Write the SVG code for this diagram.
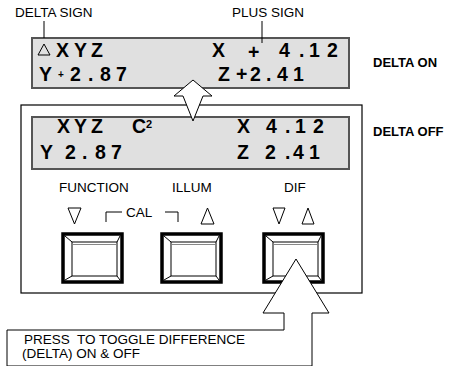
<svg xmlns="http://www.w3.org/2000/svg" width="449" height="366" viewBox="0 0 449 366">
<style>
.lbl{font-family:"Liberation Sans",Arial,sans-serif;font-size:13.5px;fill:#000}
.lblb{font-family:"Liberation Sans",Arial,sans-serif;font-size:13px;font-weight:bold;fill:#000}
.lcd{font-family:"Liberation Sans",Arial,sans-serif;font-size:19.5px;font-weight:bold;fill:#000}
.disp{fill:#e0e0e0;stroke:#555;stroke-width:2}
.ln{fill:none;stroke:#000;stroke-width:1}
.tri{fill:none;stroke:#000;stroke-width:1}
.btnO{fill:#fff;stroke:#000;stroke-width:3.5}
.btnI{fill:#fff;stroke:#000;stroke-width:1}
.gr{fill:none;stroke:#888;stroke-width:1}
</style>
<rect width="449" height="366" fill="#fff"/>

<g id="labels-top">
<text class="lbl" x="15" y="17">DELTA SIGN</text>
<text class="lbl" x="232" y="17">PLUS SIGN</text>
</g>

<g id="outer-box">
<rect x="21" y="105" width="341" height="188" fill="#fff" stroke="#000" stroke-width="1.2"/>
</g>

<g id="display-on">
<rect class="disp" x="32" y="38" width="317" height="50"/>
<polygon class="tri" points="38,55 50,55 44,44"/>
<text class="lcd" x="56 74 91" y="57">XYZ</text>
<text class="lcd" x="212" y="57">X</text>
<text class="lcd" x="248" y="59">+</text>
<text class="lcd" x="279 299 309 327" y="57">4.12</text>
<text class="lcd" x="39" y="81">Y</text>
<text class="lblb" x="58" y="78" style="font-size:10px">+</text>
<text class="lcd" x="70 88 100 116" y="81">2.87</text>
<text class="lcd" x="218 236 250 266 277 293" y="81">Z+2.41</text>
</g>

<g id="display-off">
<rect class="disp" x="32" y="117" width="317" height="52"/>
<text class="lcd" x="57 74 91" y="133">XYZ</text>
<text class="lcd" x="132" y="133">C</text>
<text class="lblb" x="146" y="128" style="font-size:11px">2</text>
<text class="lcd" x="237 266 285 295 313" y="133">X4.12</text>
<text class="lcd" x="40 65 82 95 111" y="159">Y2.87</text>
<text class="lcd" x="237 265 285 293 309" y="159">Z2.41</text>
</g>

<g id="state-labels">
<text class="lblb" x="373" y="67">DELTA ON</text>
<text class="lblb" x="373" y="136">DELTA OFF</text>
</g>

<g id="button-labels">
<text class="lbl" x="59" y="192">FUNCTION</text>
<text class="lbl" x="172" y="192">ILLUM</text>
<text class="lbl" x="284" y="192">DIF</text>
<polygon class="tri" points="68,208 81,208 74.5,224"/>
<polygon class="tri" points="201,224 214,224 207.5,208"/>
<polygon class="tri" points="273,208 285,208 279,224"/>
<polygon class="tri" points="302,224 314,224 308,208"/>
<polyline class="ln" points="106,222 106,212 122,212"/>
<polyline class="ln" points="165,212 178,212 178,222"/>
<text class="lbl" x="126" y="217">CAL</text>
</g>

<g id="btn-function">
<rect class="btnO" x="63" y="234" width="59" height="48"/>
<rect class="btnI" x="72" y="242" width="45" height="34"/>
<line class="gr" x1="73" y1="244.5" x2="116" y2="244.5"/>
<path class="ln" d="M65,236 L72,242 M120,236 L117,242 M65,280 L72,276 M120,280 L117,276"/>
</g>
<g id="btn-illum">
<rect class="btnO" x="162" y="234" width="59" height="48"/>
<rect class="btnI" x="171" y="242" width="45" height="34"/>
<line class="gr" x1="172" y1="244.5" x2="215" y2="244.5"/>
<path class="ln" d="M164,236 L171,242 M219,236 L216,242 M164,280 L171,276 M219,280 L216,276"/>
</g>
<g id="btn-dif">
<rect class="btnO" x="264" y="234" width="59" height="48"/>
<rect class="btnI" x="273" y="242" width="45" height="34"/>
<line class="gr" x1="274" y1="244.5" x2="317" y2="244.5"/>
<path class="ln" d="M266,236 L273,242 M321,236 L318,242 M266,280 L273,276 M321,280 L318,276"/>
</g>

<g id="connectors">
<line class="ln" x1="44" y1="21" x2="44" y2="38"/>
<line class="ln" x1="262" y1="21" x2="262" y2="43"/>
<polygon points="193,80 212,96 203,96 193,121 183,96 174,96" fill="#fff" stroke="#000" stroke-width="1"/>
<polygon points="7,366 7,330 284,330 284,313 263,313 296,259 329,313 312,313 312,366" fill="#fff" stroke="#000" stroke-width="1"/>
</g>

<g id="note">
<text class="lbl" x="24" y="344" xml:space="preserve">PRESS  TO TOGGLE DIFFERENCE</text>
<text class="lbl" x="22" y="358">(DELTA) ON &amp; OFF</text>
</g>
</svg>
